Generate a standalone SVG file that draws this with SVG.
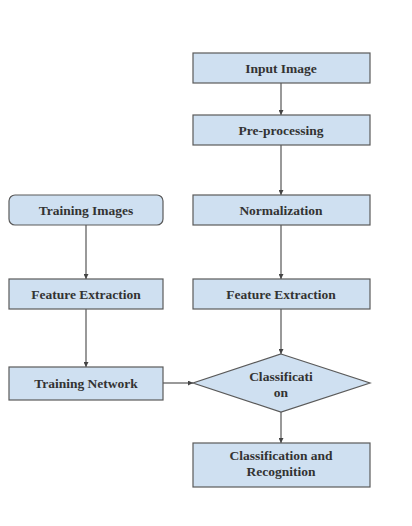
<svg xmlns="http://www.w3.org/2000/svg" width="412" height="526" viewBox="0 0 412 526">
<style>
.box{fill:#cfe0f1;stroke:#5a5a5a;stroke-width:1.2}
.t{font-family:"Liberation Serif",serif;font-size:13.5px;fill:#333;text-anchor:middle;font-weight:bold}
.c{stroke:#555;stroke-width:1.2;fill:none;marker-end:url(#ah)}
</style>
<defs>
<marker id="ah" viewBox="0 0 6 6" refX="6" refY="3" markerWidth="5" markerHeight="5" orient="auto" markerUnits="userSpaceOnUse">
<path d="M0,0 L6,3 L0,6 z" fill="#444"/>
</marker>
</defs>
<rect width="412" height="526" fill="#fff"/>
<g id="connectors">
<line class="c" x1="281" y1="83" x2="281" y2="115"/>
<line class="c" x1="281" y1="145" x2="281" y2="195"/>
<line class="c" x1="281" y1="225" x2="281" y2="279"/>
<line class="c" x1="281" y1="309" x2="281" y2="354"/>
<line class="c" x1="281" y1="412" x2="281" y2="443"/>
<line class="c" x1="86" y1="225" x2="86" y2="279"/>
<line class="c" x1="86" y1="309" x2="86" y2="367"/>
<line class="c" x1="163" y1="383" x2="193" y2="383"/>
</g>
<g id="input-image"><rect class="box" x="193" y="53" width="177" height="30"/><text class="t" x="281" y="73">Input Image</text></g>
<g id="pre-processing"><rect class="box" x="193" y="115" width="177" height="30"/><text class="t" x="281" y="135">Pre-processing</text></g>
<g id="normalization"><rect class="box" x="193" y="195" width="177" height="30"/><text class="t" x="281" y="215">Normalization</text></g>
<g id="feature-extraction-right"><rect class="box" x="193" y="279" width="177" height="30"/><text class="t" x="281" y="299">Feature Extraction</text></g>
<g id="classification"><polygon class="box" points="281,354 370,383 281,412 193,383"/><text class="t" x="281" y="381">Classificati</text><text class="t" x="281" y="397">on</text></g>
<g id="classification-recognition"><rect class="box" x="193" y="443" width="177" height="44"/><text class="t" x="281" y="460">Classification and</text><text class="t" x="281" y="476">Recognition</text></g>
<g id="training-images"><rect class="box" x="9" y="195" width="154" height="30" rx="6"/><text class="t" x="86" y="215">Training Images</text></g>
<g id="feature-extraction-left"><rect class="box" x="9" y="279" width="154" height="30"/><text class="t" x="86" y="299">Feature Extraction</text></g>
<g id="training-network"><rect class="box" x="9" y="367" width="154" height="33"/><text class="t" x="86" y="388">Training Network</text></g>
</svg>
